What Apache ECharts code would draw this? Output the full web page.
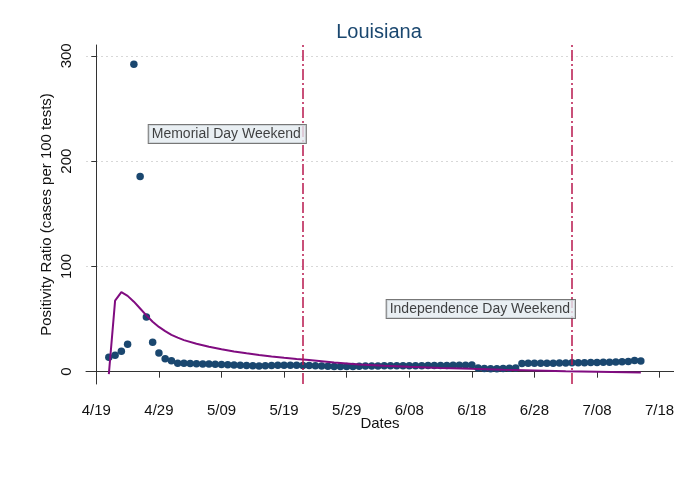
<!DOCTYPE html>
<html>
<head>
<meta charset="utf-8">
<script src="https://cdn.jsdelivr.net/npm/echarts@6.0.0/dist/echarts.min.js"></script>
<style>
  html, body { margin: 0; padding: 0; background: #ffffff; }
  #chart { width: 674px; height: 484px; }
</style>
</head>
<body>
<div id="chart"></div>
<script>
// ---- data (x = days after 4/19) ----
var chartTitle = 'Louisiana';
var xTickValues = [0, 10, 20, 30, 40, 50, 60, 70, 80, 90];
var xTickLabels = ['4/19', '4/29', '5/09', '5/19', '5/29', '6/08', '6/18', '6/28', '7/08', '7/18'];
var yTickValues = [0, 100, 200, 300];

var obsDays = [2, 3, 4, 5, 6, 7, 8, 9, 10, 11, 12, 13, 14, 15, 16, 17, 18, 19, 20, 21,
  22, 23, 24, 25, 26, 27, 28, 29, 30, 31, 32, 33, 34, 35, 36, 37, 38, 39, 40, 41,
  42, 43, 44, 45, 46, 47, 48, 49, 50, 51, 52, 53, 54, 55, 56, 57, 58, 59, 60, 61,
  62, 63, 64, 65, 66, 67, 68, 69, 70, 71, 72, 73, 74, 75, 76, 77, 78, 79, 80, 81,
  82, 83, 84, 85, 86, 87];
var obsRatio = [13.7, 15.6, 19.4, 26, 292, 185.5, 52, 28, 17.7, 12.4, 10.5, 8, 8, 7.8, 7.6, 7.4, 7.3, 7.1, 6.8, 6.5,
  6.3, 6.0, 5.8, 5.6, 5.5, 5.6, 5.8, 6.0, 6.0, 6.1, 6.0, 5.9, 5.8, 5.6, 5.4, 5.2, 5.0, 4.9, 4.9, 5.0,
  5.1, 5.3, 5.4, 5.5, 5.6, 5.6, 5.6, 5.6, 5.6, 5.7, 5.7, 5.8, 5.8, 5.9, 5.9, 6.0, 6.0, 6.1, 6.3, 3.5,
  3.0, 2.8, 2.8, 3.0, 3.2, 3.5, 7.8, 7.9, 8.0, 8.0, 8.1, 8.1, 8.2, 8.3, 8.4, 8.5, 8.6, 8.7, 8.8, 8.9,
  9.0, 9.2, 9.4, 9.6, 10.6, 10.2];

var fitDays = [2, 3, 4, 5, 6, 7, 8, 9, 10, 11, 12, 13, 14, 16, 18, 20, 22, 24, 26, 28, 30, 32, 34, 38, 42, 46, 50, 55, 60, 65, 70, 75, 80, 87];
var fitRatio = [-2.3, 67.5, 75.5, 72, 66.5, 60, 53.5, 47.5, 42.5, 38.5, 35, 32.3, 30, 26.6, 23.7, 21.3, 19.2, 17.4, 15.9, 14.5, 13.2, 12, 11, 8.8, 6.8, 5.6, 4.6, 3.6, 2.7, 1.9, 1.2, 0.5, -0.1, -0.8];

var eventDays = [33, 76];
var eventNames = ['Memorial Day Weekend', 'Independence Day Weekend'];
var eventLabelY = [225.7, 59.5];

// ---- chart ----
var FONT = 'Liberation Sans, Arial, sans-serif';
var chart = echarts.init(document.getElementById('chart'), null, { renderer: 'canvas' });

var obsData = obsDays.map(function (d, i) { return [d, obsRatio[i]]; });
var fitData = fitDays.map(function (d, i) { return [d, fitRatio[i]]; });
var noteData = eventDays.map(function (d, i) { return { value: [d, eventLabelY[i]], name: eventNames[i] }; });

var option = {
  animation: false,
  backgroundColor: '#ffffff',
  title: {
    text: chartTitle,
    left: 379,
    top: 22,
    textAlign: 'center',
    padding: 0,
    textStyle: { fontFamily: FONT, fontSize: 20, fontWeight: 'normal', color: '#1a476f' }
  },
  grid: { left: 86, right: 0, top: 45, bottom: 100, containLabel: false, outerBoundsMode: 'none' },
  xAxis: {
    type: 'value',
    min: -1.65,
    max: 92.3,
    name: 'Dates',
    nameLocation: 'middle',
    nameGap: 32,
    nameMoveOverlap: false,
    nameTextStyle: { fontFamily: FONT, fontSize: 15, color: '#111' },
    axisLine: { show: true, lineStyle: { color: '#333', width: 1 } },
    axisTick: { show: true, length: 6, customValues: xTickValues, lineStyle: { color: '#333' } },
    axisLabel: {
      customValues: xTickValues,
      margin: 19,
      fontFamily: FONT, fontSize: 15, color: '#111',
      formatter: function (v) { var k = xTickValues.indexOf(v); return k >= 0 ? xTickLabels[k] : ''; }
    },
    splitLine: { show: false }
  },
  yAxis: {
    type: 'value',
    min: -11.7,
    max: 310.3,
    name: 'Positivity Ratio (cases per 100 tests)',
    nameLocation: 'middle',
    nameGap: 32,
    nameMoveOverlap: false,
    nameTextStyle: { fontFamily: FONT, fontSize: 15, color: '#111' },
    axisLine: { show: true, lineStyle: { color: '#333', width: 1 } },
    axisTick: { show: true, length: 5, customValues: yTickValues, lineStyle: { color: '#333' } },
    axisLabel: {
      customValues: yTickValues,
      rotate: 90,
      margin: 12,
      fontFamily: FONT, fontSize: 15, color: '#111'
    },
    splitLine: { show: true, lineStyle: { color: '#d8d8d8', width: 1, type: [2, 3] } }
  },
  series: [
    {
      type: 'scatter',
      data: obsData,
      symbol: 'circle',
      symbolSize: 7.5,
      itemStyle: { color: '#1a476f', opacity: 1 },
      z: 3,
      markLine: {
        silent: true,
        symbol: ['none', 'none'],
        label: { show: false },
        lineStyle: { color: '#b8174e', width: 1.5, type: [11, 3, 2, 3], opacity: 1 },
        data: eventDays.map(function (d) { return { xAxis: d }; })
      }
    },
    {
      type: 'line',
      data: fitData,
      showSymbol: false,
      symbol: 'none',
      lineStyle: { color: '#800c80', width: 2 },
      z: 4
    },
    {
      type: 'scatter',
      data: noteData,
      symbolSize: 0,
      z: 6,
      silent: true,
      label: {
        show: true,
        position: 'left',
        distance: -3,
        formatter: function (p) { return p.name; },
        fontFamily: FONT, fontSize: 14, color: '#111',
        backgroundColor: '#e3ebf0',
        borderColor: '#555',
        borderWidth: 1,
        padding: [2, 5, 2, 3]
      }
    }
  ]
};
chart.setOption(option);
</script>
</body>
</html>
